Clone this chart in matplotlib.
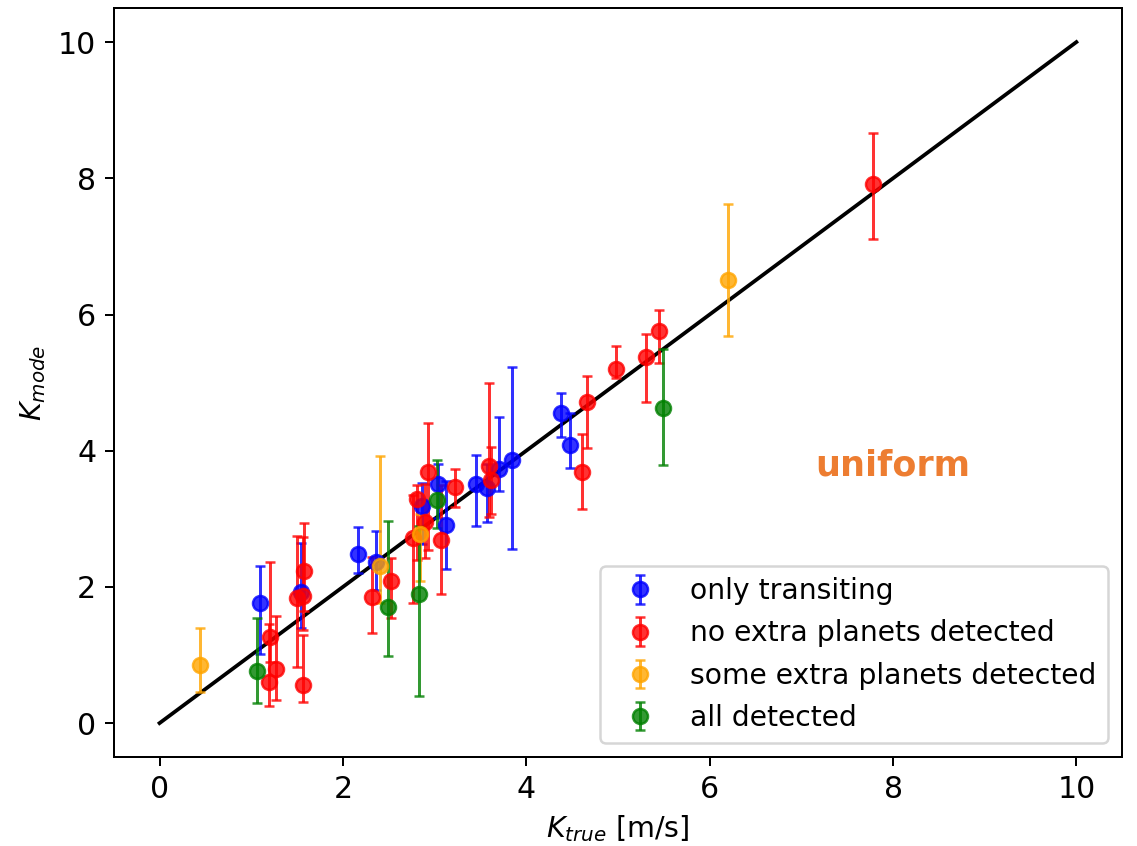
import numpy as np
import matplotlib
matplotlib.use('Agg')
import matplotlib.pyplot as plt

# only transiting
k_true_tr = [1.10, 1.54, 2.16, 2.36, 2.86, 3.04, 3.12, 3.45, 3.57, 3.70, 3.84, 4.38, 4.48]
k_mode_tr = [1.77, 1.93, 2.48, 2.37, 3.19, 3.51, 2.91, 3.51, 3.45, 3.73, 3.86, 4.55, 4.08]
err_lo_tr = [0.76, 0.54, 0.27, 0.42, 0.56, 0.50, 0.64, 0.62, 0.50, 0.32, 1.30, 0.35, 0.34]
err_hi_tr = [0.54, 0.72, 0.40, 0.45, 0.33, 0.30, 0.64, 0.42, 0.35, 0.77, 1.37, 0.29, 0.47]

# no extra planets detected
k_true_no = [1.20, 1.19, 1.27, 1.50, 1.57, 1.58, 1.56, 2.32, 2.52, 2.76, 2.81, 2.89,
             2.93, 3.07, 3.22, 3.59, 3.61, 4.61, 4.66, 4.98, 5.31, 5.45, 7.78]
k_mode_no = [1.27, 0.60, 0.80, 1.83, 1.87, 2.24, 0.56, 1.85, 2.08, 2.72, 3.29, 2.95,
             3.69, 2.69, 3.46, 3.77, 3.57, 3.68, 4.71, 5.20, 5.38, 5.76, 7.92]
err_lo_no = [0.37, 0.35, 0.46, 1.01, 0.50, 0.60, 0.25, 0.52, 0.53, 0.95, 0.90, 0.52,
             1.15, 0.80, 0.29, 0.74, 0.50, 0.54, 0.67, 0.13, 0.67, 0.47, 0.81]
err_hi_no = [1.10, 0.85, 0.78, 0.92, 0.87, 0.70, 0.74, 0.59, 0.35, 0.63, 0.20, 0.56,
             0.72, 0.80, 0.27, 1.22, 0.48, 0.57, 0.39, 0.34, 0.34, 0.31, 0.75]

# some extra planets detected
k_true_some = [0.44, 2.41, 2.84, 6.20]
k_mode_some = [0.86, 2.31, 2.77, 6.51]
err_lo_some = [0.41, 0.54, 0.69, 0.82]
err_hi_some = [0.54, 1.61, 0.30, 1.11]

# all detected
k_true_all = [1.06, 2.49, 2.83, 3.03, 5.49]
k_mode_all = [0.77, 1.71, 1.90, 3.27, 4.62]
err_lo_all = [0.48, 0.73, 1.50, 0.40, 0.83]
err_hi_all = [0.78, 1.26, 1.00, 0.59, 0.88]

fig, ax = plt.subplots(figsize=(1137 / 180, 846 / 180), dpi=180)
plt.subplots_adjust(left=0.100, right=0.987, top=0.9905, bottom=0.105)

ax.plot([0, 10], [0, 10], color='k')

groups = [
    (k_true_tr, k_mode_tr, err_lo_tr, err_hi_tr, 'blue', 'only transiting'),
    (k_true_no, k_mode_no, err_lo_no, err_hi_no, 'red', 'no extra planets detected'),
    (k_true_some, k_mode_some, err_lo_some, err_hi_some, 'orange', 'some extra planets detected'),
    (k_true_all, k_mode_all, err_lo_all, err_hi_all, 'green', 'all detected'),
]
for x, y, lo, hi, c, lab in groups:
    ax.errorbar(x, y, yerr=[lo, hi], fmt='o', color=c, alpha=0.8,
                capsize=2, elinewidth=1.2, markersize=6, label=lab)

ax.text(8.0, 3.79, 'uniform', color='#ED7D31', fontsize=14, fontweight='bold',
        ha='center', va='center')

ax.tick_params(labelsize=12)
ax.set_xlabel(r'$K_{true}$ [m/s]', fontsize=11.4)
ax.set_ylabel(r'$K_{mode}$', fontsize=11.4)
ax.legend(loc='lower right', fontsize=11.3)

plt.savefig('out.png', dpi=180)
